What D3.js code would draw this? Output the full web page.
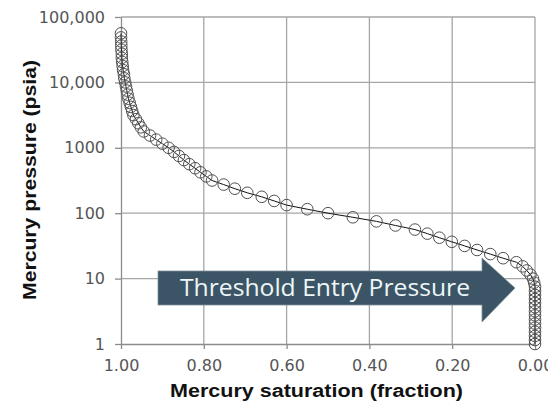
<!DOCTYPE html>
<html>
<head>
<meta charset="utf-8">
<script src="https://cdn.jsdelivr.net/npm/d3@7"></script>
<style>
  body { margin: 0; background: #fff; }
  svg { display: block; }
</style>
</head>
<body>
<div id="chart"></div>
<script>
// mercury injection data (pressure psia, saturation fraction)
const pressure = [
  56234, 48697, 42170, 36517, 31623, 27384, 23714, 20535, 17783, 15399, 13335, 11548,
  10000, 8660, 7499, 6494, 5623, 4870, 4217, 3652, 3162, 2738, 2371, 2054, 1778, 1540, 1334, 1155,
  1000, 866, 750, 649, 562, 487, 422, 365, 316, 274, 237, 205, 178, 154, 133, 115,
  100, 86.6, 75.0, 64.9, 56.2, 48.7, 42.2, 36.5, 31.6, 27.4, 23.7, 20.5, 17.8, 15.4, 13.3, 11.5,
  10.0, 8.66, 7.50, 6.49, 5.62, 4.87, 4.22, 3.65, 3.16, 2.74, 2.37, 2.05, 1.78, 1.54, 1.33, 1.15, 1.00
]
const saturation = [
  1.000, 1.000, 0.9995, 0.9993, 0.999, 0.998, 0.998, 0.997, 0.996, 0.995, 0.993, 0.992,
  0.990, 0.988, 0.986, 0.984, 0.982, 0.979, 0.976, 0.973, 0.970, 0.964, 0.958, 0.952, 0.945, 0.930, 0.915, 0.900,
  0.885, 0.872, 0.860, 0.848, 0.835, 0.821, 0.808, 0.794, 0.780, 0.752, 0.725, 0.695, 0.660, 0.630, 0.600, 0.550,
  0.500, 0.440, 0.383, 0.337, 0.290, 0.260, 0.231, 0.201, 0.170, 0.140, 0.108, 0.077, 0.045, 0.030, 0.020, 0.011,
  0.005, 0.002, 0.000, 0.000, 0.000, 0.000, 0.000, 0.000, 0.000, 0.000, 0.000, 0.000, 0.000, 0.000, 0.000, 0.000, 0.000
]
const xTicks = [1.0, 0.8, 0.6, 0.4, 0.2, 0.0]
const yTicks = [1, 10, 100, 1000, 10000, 100000]
const yTickLabels = ['1', '10', '100', '1000', '10,000', '100,000']
const arrowLabel = 'Threshold Entry Pressure'

const width = 548
const height = 406
const margin = { top: 17, right: 13, bottom: 62, left: 121 }
const innerWidth = width - margin.left - margin.right
const innerHeight = height - margin.top - margin.bottom

const svg = d3.select('#chart')
  .append('svg')
  .attr('width', width)
  .attr('height', height)

const g = svg.append('g')
  .attr('transform', `translate(${margin.left}, ${margin.top})`)

const xScale = d3.scaleLinear().domain([1, 0]).range([0, innerWidth])
const yScale = d3.scaleLog().domain([1, 100000]).range([innerHeight, 0])

const gridColor = '#a6a6a6'

// grid lines
g.append('g')
  .selectAll('line')
  .data(yTicks.slice(1))
  .join('line')
  .attr('x1', 0)
  .attr('x2', innerWidth)
  .attr('y1', d => yScale(d))
  .attr('y2', d => yScale(d))
  .attr('stroke', gridColor)
  .attr('stroke-width', 1.3)

g.append('g')
  .selectAll('line')
  .data(xTicks.slice(1))
  .join('line')
  .attr('x1', d => xScale(d))
  .attr('x2', d => xScale(d))
  .attr('y1', 0)
  .attr('y2', innerHeight)
  .attr('stroke', gridColor)
  .attr('stroke-width', 1.3)

// axes
const yAxis = d3.axisLeft(yScale)
  .tickValues(yTicks)
  .tickFormat((d, i) => yTickLabels[i])
  .tickSize(6)
  .tickSizeOuter(0)
  .tickPadding(10)

const yAxisGroup = g.append('g').call(yAxis)

const xAxis = d3.axisBottom(xScale)
  .tickValues(xTicks)
  .tickFormat(d3.format('.2f'))
  .tickSize(5)
  .tickSizeOuter(0)
  .tickPadding(11)

const xAxisGroup = g.append('g')
  .attr('transform', `translate(0, ${innerHeight})`)
  .call(xAxis)

;[xAxisGroup, yAxisGroup].forEach(ax => {
  ax.select('.domain').attr('stroke', '#8c8c8c').attr('stroke-width', 1.3)
  ax.selectAll('.tick line').attr('stroke', '#8c8c8c').attr('stroke-width', 1.3)
  ax.selectAll('.tick text')
    .attr('fill', '#555')
    .attr('font-family', "'DejaVu Sans', sans-serif")
    .attr('font-size', '16px')
})

// arrow annotation
const ax0 = 158 - margin.left
const ax1 = 482 - margin.left
const tip = 515 - margin.left
const ay = 288 - margin.top
const arrowPts = [
  [ax0, ay - 17], [ax1, ay - 17], [ax1, ay - 30], [tip, ay],
  [ax1, ay + 34], [ax1, ay + 17], [ax0, ay + 17]
]
g.append('path')
  .attr('d', d3.line()(arrowPts) + 'Z')
  .attr('fill', '#3c5566')
  .attr('stroke', '#7f8f9a')
  .attr('stroke-width', 0.8)

g.append('text')
  .attr('x', 180 - margin.left)
  .attr('y', ay + 8)
  .attr('fill', '#eef6f8')
  .attr('font-family', "'Open Sans', sans-serif")
  .attr('font-size', '23px')
  .attr('textLength', 290)
  .attr('lengthAdjust', 'spacingAndGlyphs')
  .text(arrowLabel)

// data
const points = pressure.map((p, i) => ({ p, s: saturation[i] }))

g.append('path')
  .datum(points)
  .attr('fill', 'none')
  .attr('stroke', '#111')
  .attr('stroke-width', 1)
  .attr('d', d3.line().x(d => xScale(d.s)).y(d => yScale(d.p)))

g.append('g')
  .selectAll('circle')
  .data(points)
  .join('circle')
  .attr('cx', d => xScale(d.s))
  .attr('cy', d => yScale(d.p))
  .attr('r', 5.8)
  .attr('fill', 'none')
  .attr('stroke', '#505050')
  .attr('stroke-width', 1)

// axis titles
svg.append('text')
  .attr('x', 170)
  .attr('y', 397)
  .attr('font-family', "'Liberation Sans', Arial, sans-serif")
  .attr('font-weight', 'bold')
  .attr('font-size', '18px')
  .attr('textLength', 293)
  .attr('lengthAdjust', 'spacingAndGlyphs')
  .attr('fill', '#111')
  .text('Mercury saturation (fraction)')

svg.append('text')
  .attr('transform', 'translate(36, 300) rotate(-90)')
  .attr('font-family', "'Liberation Sans', Arial, sans-serif")
  .attr('font-weight', 'bold')
  .attr('font-size', '18px')
  .attr('textLength', 240)
  .attr('lengthAdjust', 'spacingAndGlyphs')
  .attr('fill', '#111')
  .text('Mercury pressure (psia)')
</script>
</body>
</html>
